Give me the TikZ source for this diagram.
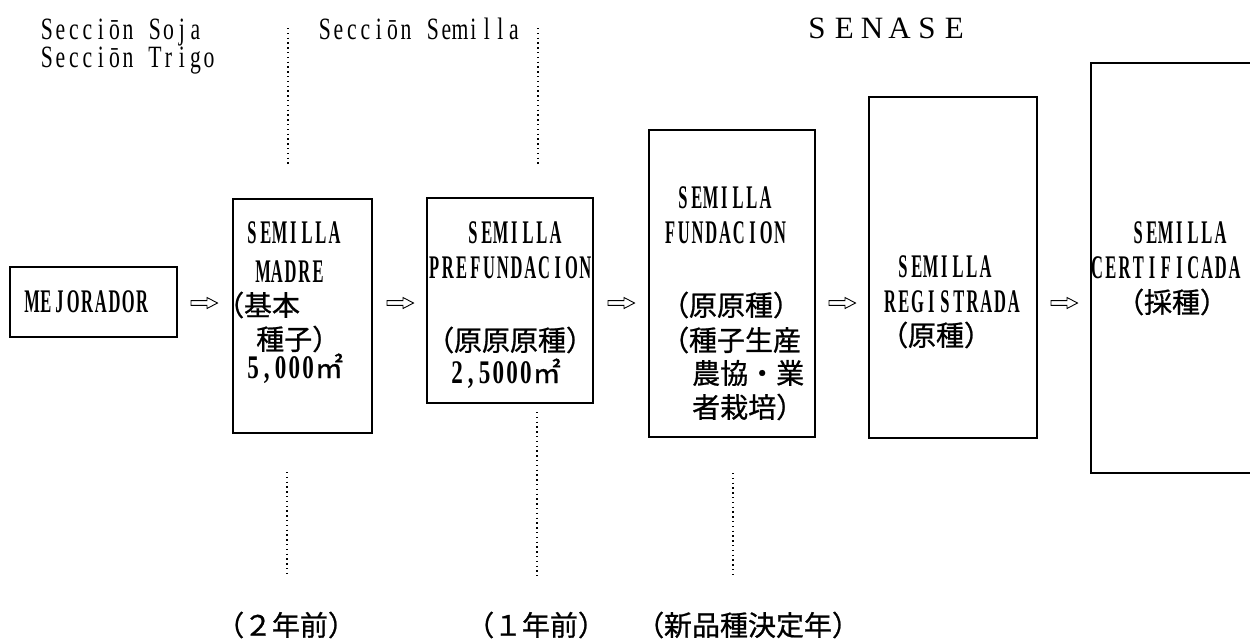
\documentclass[tikz,border=0pt]{standalone}
\usepackage{fontspec}
\usepackage{graphicx}
\setmainfont{Liberation Serif}
\newfontfamily\cjk[FakeBold=0.8]{Noto Sans CJK JP}
\newcommand\latfont{\bfseries\fontsize{33}{33}\selectfont}
\newcommand\hdrfont{\fontsize{31}{31}\selectfont}
\newcommand\senfont{\fontsize{31}{31}\selectfont}
\newcommand\jpfont{\cjk\fontsize{28}{28}\selectfont}
\newcommand\cellA[1]{\makebox[13.75pt]{\scalebox{0.5}[1]{#1}}}
\newcommand\cellL[1]{\makebox[13.5pt]{\scalebox{0.7}[1]{#1}}}
\newcommand\cellD[1]{\makebox[13.75pt]{\scalebox{0.7}[1]{#1}}}
\newcommand\cellW[1]{\makebox[27.5pt]{#1}}
\def\fploop#1#2{\ifx\relax#2\else#1{#2}\expandafter\fploop\expandafter#1\fi}
\newcommand\fp[1]{\fploop\cellA#1\relax}
\newcommand\fpl[1]{\fploop\cellL#1\relax}
\newcommand\fpd[1]{\fploop\cellD#1\relax}
\newcommand\fpw[1]{\fploop\cellW#1\relax}
\newcommand\LP{\makebox[13.75pt][l]{\kern-14pt （}}
\newcommand\RP{\makebox[13.75pt][l]{）}}
\begin{document}
\begin{tikzpicture}[x=1pt,y=-1pt,
  box/.style={draw, line width=1.3pt, inner sep=0pt},
  lat/.style={font=\latfont, inner sep=0pt, anchor=base west},
  hdr/.style={font=\hdrfont, inner sep=0pt, anchor=base west, text height=20pt, text depth=0pt},
  jp/.style={font=\jpfont, inner sep=0pt, anchor=west},
  sepline/.style={line width=1.4pt, dash pattern=on 1.4pt off 3.4pt},
  warrow/.pic={\draw[line width=0.9pt, line join=miter]
    (-13,-2.4) -- (3,-2.4) -- (3,-5.5) -- (13.5,0) -- (3,5.5) -- (3,2.4) -- (-13,2.4) -- cycle;}
]
\fill[white] (0,0) rectangle (1250,640);
\useasboundingbox (0,0) rectangle (1250,640);

% header texts
\node[hdr] (soja) at (40,39) {\fpl{Secciōn~Soja}};
\node[hdr] (trigo) at (40,67) {\fpl{Secciōn~Trigo}};
\node[hdr] (semsec) at (318,39) {\fpl{Secciōn~Semilla}};
\node[font=\senfont, inner sep=0pt, anchor=base west] (senase) at (803,38) {\fpw{SENASE}};

% separators
\draw[sepline] (288,28) -- (288,164);
\draw[sepline] (538,28) -- (538,164);
\draw[sepline] (287,472) -- (287,576);
\draw[sepline] (537,412) -- (537,576);
\draw[sepline] (733,473) -- (733,576);

% boxes
\node[box, minimum width=167pt, minimum height=70pt] (mej) at (93.5,302) {};
\node[box, minimum width=139pt, minimum height=234pt] (madre) at (302.5,316) {};
\node[box, minimum width=166pt, minimum height=205pt] (pref) at (510,300.5) {};
\node[box, minimum width=166pt, minimum height=307pt] (fund) at (732,283.5) {};
\node[box, minimum width=168pt, minimum height=341pt] (reg) at (953,267.5) {};
\node[box, minimum width=189pt, minimum height=410pt] (cert) at (1185.5,268) {};

% arrows between boxes
\pic (a1) at (204,303) {warrow};
\pic (a2) at (400,303) {warrow};
\pic (a3) at (621,303) {warrow};
\pic (a4) at (842,303) {warrow};
\pic (a5) at (1064,303) {warrow};

% MEJORADOR
\node[lat] (mejT) at (25,312) {\fp{MEJORADOR}};

% MADRE
\node[lat] (madre1) at (245,243) {\fp{SEMILLA}};
\node[lat] (madre2) at (256,282) {\fp{MADRE}};
\node[jp] (madre3) at (230,305) {\LP 基本};
\node[jp] (madre4) at (256,339) {種子\RP};
\node[lat] (madre5) at (246,378) {\fpd{5,000}{\jpfont\mdseries ㎡}};

% PREFUNDACION
\node[lat] (pref1) at (466,243) {\fp{SEMILLA}};
\node[lat] (pref2) at (427,278) {\fp{PREFUNDACION}};
\node[jp] (pref3) at (440,340) {\LP 原原原種\RP};
\node[lat] (pref4) at (450,383) {\fpd{2,5000}{\jpfont\mdseries ㎡}};

% FUNDACION
\node[lat] (fund1) at (676,208) {\fp{SEMILLA}};
\node[lat] (fund2) at (663,243) {\fp{FUNDACION}};
\node[jp] (fund3) at (675,305) {\LP 原原種\RP};
\node[jp] (fund4) at (675,340) {\LP 種子生産};
\node[jp] (fund5) at (692,373) {農協・業};
\node[jp] (fund6) at (692,407) {者栽培\RP};

% REGISTRADA
\node[lat] (reg1) at (896,277) {\fp{SEMILLA}};
\node[lat] (reg2) at (883,312) {\fp{REGISTRADA}};
\node[jp] (reg3) at (894,335) {\LP 原種\RP};

% CERTIFICADA
\node[lat] (cert1) at (1131,243) {\fp{SEMILLA}};
\node[lat] (cert2) at (1090,278) {\fp{CERTIFICADA}};
\node[jp] (cert3) at (1130,302) {\LP 採種\RP};

% bottom
\node[jp] (y2) at (230,625) {\LP ２年前\RP};
\node[jp] (y1) at (480,625) {\LP １年前\RP};
\node[jp] (y0) at (650,625) {\LP 新品種決定年\RP};
\end{tikzpicture}
\end{document}
